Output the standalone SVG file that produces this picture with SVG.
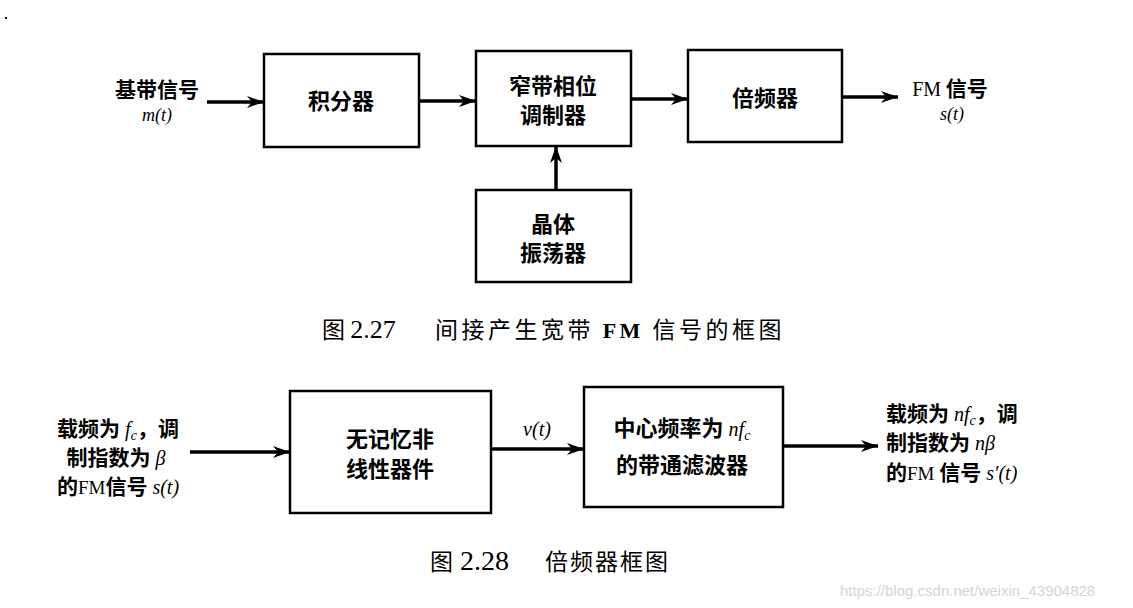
<svg xmlns="http://www.w3.org/2000/svg" width="1133" height="608" viewBox="0 0 1133 608">
  <defs>
    <style>
      .box { fill: #fff; stroke: #000; stroke-width: 2.5; }
      .wire { fill: none; stroke: #000; stroke-width: 3.5; }
      .lbl { font-family: "Noto Sans CJK SC", "Liberation Sans", sans-serif; font-weight: bold; font-size: 21px; fill: #000; }
      .box-t { font-family: "Noto Sans CJK SC", "Liberation Sans", sans-serif; font-weight: bold; font-size: 22px; fill: #000; text-anchor: middle; }
      .it { font-family: "Liberation Serif", serif; font-style: italic; font-weight: normal; }
      .cap { font-family: "Noto Sans CJK SC", "Liberation Serif", sans-serif; font-size: 23px; fill: #000; }
      .num { font-family: "Liberation Serif", serif; }
      .wm { font-family: "Liberation Sans", sans-serif; font-size: 15px; fill: #d4d4d4; }
    </style>
    <marker id="ah" markerUnits="userSpaceOnUse" markerWidth="18" markerHeight="14" refX="17" refY="7" orient="auto">
      <path d="M0,1 L17,7 L0,13 L5,7 z" fill="#000"/>
    </marker>
  </defs>
  <rect width="1133" height="608" fill="#fff"/>
  <rect x="5" y="17" width="2" height="2" fill="#000"/>

  <!-- Figure 2.27 -->
  <g id="n-integrator">
    <rect class="box" x="264" y="54" width="155" height="93"/>
    <text class="box-t" x="341" y="109">积分器</text>
  </g>
  <g id="n-modulator">
    <rect class="box" x="476" y="51" width="155" height="95"/>
    <text class="box-t" x="553" y="94"><tspan x="553">窄带相位</tspan><tspan x="553" dy="29">调制器</tspan></text>
  </g>
  <g id="n-multiplier">
    <rect class="box" x="688" y="50" width="154" height="92"/>
    <text class="box-t" x="765" y="106">倍频器</text>
  </g>
  <g id="n-oscillator">
    <rect class="box" x="476" y="190" width="155" height="92"/>
    <text class="box-t" x="553" y="232"><tspan x="553">晶体</tspan><tspan x="553" dy="29">振荡器</tspan></text>
  </g>
  <g id="n-input-top">
    <text class="lbl" x="157" y="97" text-anchor="middle" font-size="22">基带信号</text>
    <text class="it" x="157" y="121" font-size="18" text-anchor="middle">m(t)</text>
  </g>
  <g id="n-output-top">
    <text class="lbl" x="950" y="96" text-anchor="middle"><tspan class="num" font-weight="normal" font-size="20">FM</tspan> 信号</text>
    <text class="it" x="952" y="120" font-size="18" text-anchor="middle">s(t)</text>
  </g>

  <!-- Figure 2.28 -->
  <g id="n-nonlinear">
    <rect class="box" x="290" y="391" width="201" height="122"/>
    <text class="box-t" x="390" y="447"><tspan x="390">无记忆非</tspan><tspan x="390" dy="30">线性器件</tspan></text>
  </g>
  <g id="n-bandpass">
    <rect class="box" x="584" y="387" width="199" height="120"/>
    <text class="box-t" x="682" y="436">中心频率为<tspan class="it" font-size="20"> nf<tspan font-size="14" dy="4">c</tspan></tspan></text>
    <text class="box-t" x="682" y="473">的带通滤波器</text>
  </g>
  <g id="n-input-bottom">
    <text class="lbl" x="118" y="436" text-anchor="middle">载频为<tspan class="it" font-size="20"> f<tspan font-size="14" dy="4">c</tspan></tspan><tspan dy="-4">，调</tspan></text>
    <text class="lbl" x="116" y="465" text-anchor="middle">制指数为<tspan class="it" font-size="20"> β</tspan></text>
    <text class="lbl" x="118" y="494" text-anchor="middle">的<tspan class="num" font-weight="normal" font-size="19">FM</tspan>信号<tspan class="it" font-size="20"> s(t)</tspan></text>
  </g>
  <g id="n-vt">
    <text class="it" x="537" y="436" font-size="20" text-anchor="middle">v(t)</text>
  </g>
  <g id="n-output-bottom">
    <text class="lbl" x="886" y="421">载频为<tspan class="it" font-size="20"> nf<tspan font-size="14" dy="4">c</tspan></tspan><tspan dy="-4">，调</tspan></text>
    <text class="lbl" x="886" y="450">制指数为<tspan class="it" font-size="20"> nβ</tspan></text>
    <text class="lbl" x="886" y="480">的<tspan class="num" font-weight="normal" font-size="19">FM</tspan> 信号<tspan class="it" font-size="20"> s′(t)</tspan></text>
  </g>

  <g id="connectors">
    <line class="wire" x1="207" y1="102" x2="264" y2="102" marker-end="url(#ah)"/>
    <line class="wire" x1="419" y1="101" x2="476" y2="101" marker-end="url(#ah)"/>
    <line class="wire" x1="631" y1="99" x2="688" y2="99" marker-end="url(#ah)"/>
    <line class="wire" x1="842" y1="97" x2="898" y2="97" marker-end="url(#ah)"/>
    <line class="wire" x1="556" y1="190" x2="556" y2="146" marker-end="url(#ah)"/>
    <line class="wire" x1="190" y1="452" x2="290" y2="452" marker-end="url(#ah)"/>
    <line class="wire" x1="491" y1="449" x2="584" y2="449" marker-end="url(#ah)"/>
    <line class="wire" x1="783" y1="446" x2="878" y2="446" marker-end="url(#ah)"/>
  </g>

  <g id="captions">
    <text class="cap" x="322" y="338" font-size="24"><tspan>图 </tspan><tspan class="num" font-size="26">2.27</tspan></text>
    <text class="cap" x="435" y="338" letter-spacing="3.5">间接产生宽带 <tspan class="num" font-weight="bold" font-size="22">FM</tspan> 信号的框图</text>
    <text class="cap" x="430" y="570" font-size="26"><tspan>图</tspan><tspan class="num" font-size="28"> 2.28</tspan></text>
    <text class="cap" x="545" y="570" font-size="26" letter-spacing="2">倍频器框图</text>
    <text class="wm" x="840" y="596">https://blog.csdn.net/weixin_43904828</text>
  </g>
</svg>
